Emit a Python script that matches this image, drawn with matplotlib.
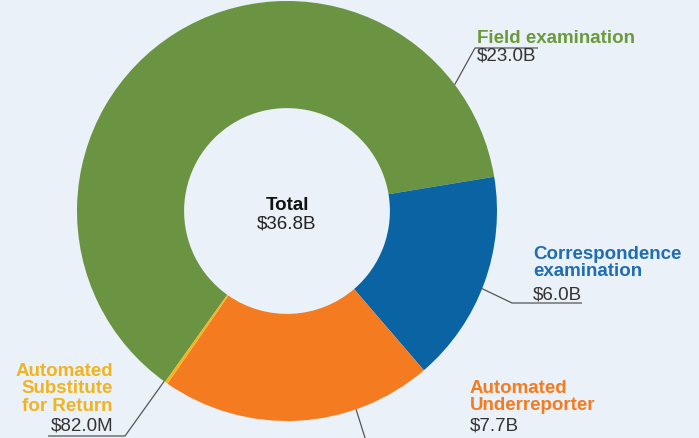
import numpy as np
import matplotlib
matplotlib.use("Agg")
import matplotlib.pyplot as plt

categories = ["Field examination", "Correspondence\nexamination",
              "Automated\nUnderreporter", "Automated\nSubstitute\nfor Return"]
values = [23.0, 6.0, 7.7, 0.082]
value_labels = ["$23.0B", "$6.0B", "$7.7B", "$82.0M"]
total_label = "$36.8B"

colors = ["#6a9442", "#0a64a4", "#f47b20", "#f4b619"]
text_colors = ["#6a9a3c", "#1f6db2", "#f47b20", "#f0b41e"]
bg = "#eaf1f8"

W, H = 699, 439
fig = plt.figure(figsize=(W / 100, H / 100), dpi=100, facecolor=bg)
ax = fig.add_axes([0, 0, 1, 1], facecolor=bg)

cx, cy, R = 287, H - 212, 210
wedges, _ = ax.pie(values, colors=colors, startangle=234.5, counterclock=False,
                   center=(cx, cy), radius=R,
                   wedgeprops=dict(width=R * 0.51, edgecolor="none", linewidth=0))
ax.set_xlim(0, W)
ax.set_ylim(0, H)
ax.set_aspect("equal")
ax.axis("off")

font = "Liberation Sans"
fs = 13.5

# center text
ax.text(cx, H - 206, "Total", ha="center", va="center", fontsize=fs,
        fontweight="bold", color="#111111", family=font)
ax.text(cx, H - 224, total_label, ha="center", va="center", fontsize=fs,
        color="#222222", family=font)

line_c = "#555555"

def leader(ang_deg, elbow, end):
    ang = np.deg2rad(ang_deg)
    sx, sy = cx + R * np.cos(ang), cy + R * np.sin(ang)
    ax.plot([sx, elbow[0], end[0]], [sy, H - elbow[1], H - end[1]],
            color=line_c, lw=0.9, solid_capstyle="butt")

# Field examination
leader(37, (475, 49), (538, 49))
ax.text(477, H - 38, categories[0], ha="left", va="center", fontsize=fs,
        fontweight="bold", color=text_colors[0], family=font)
ax.text(477, H - 56, value_labels[0], ha="left", va="center", fontsize=fs,
        color="#333333", family=font)

# Correspondence examination
leader(-21.7, (512, 304), (582, 304))
ax.text(533, H - 263, categories[1], ha="left", va="center", fontsize=fs,
        fontweight="bold", color=text_colors[1], family=font, linespacing=1.05)
ax.text(533, H - 295, value_labels[1], ha="left", va="center", fontsize=fs,
        color="#333333", family=font)

# Automated Underreporter
leader(-70.8, (366, 442), (400, 442))
ax.text(470, H - 397, categories[2], ha="left", va="center", fontsize=fs,
        fontweight="bold", color=text_colors[2], family=font, linespacing=1.05)
ax.text(470, H - 426, value_labels[2], ha="left", va="center", fontsize=fs,
        color="#333333", family=font)

# Automated Substitute for Return
leader(-125.8, (125, 437), (48, 437))
ax.text(113, H - 389, categories[3], ha="right", va="center", fontsize=fs,
        fontweight="bold", color=text_colors[3], family=font, linespacing=1.05,
        multialignment="right")
ax.text(113, H - 426, value_labels[3], ha="right", va="center", fontsize=fs,
        color="#333333", family=font)

fig.savefig("out.png", dpi=100, facecolor=bg)
